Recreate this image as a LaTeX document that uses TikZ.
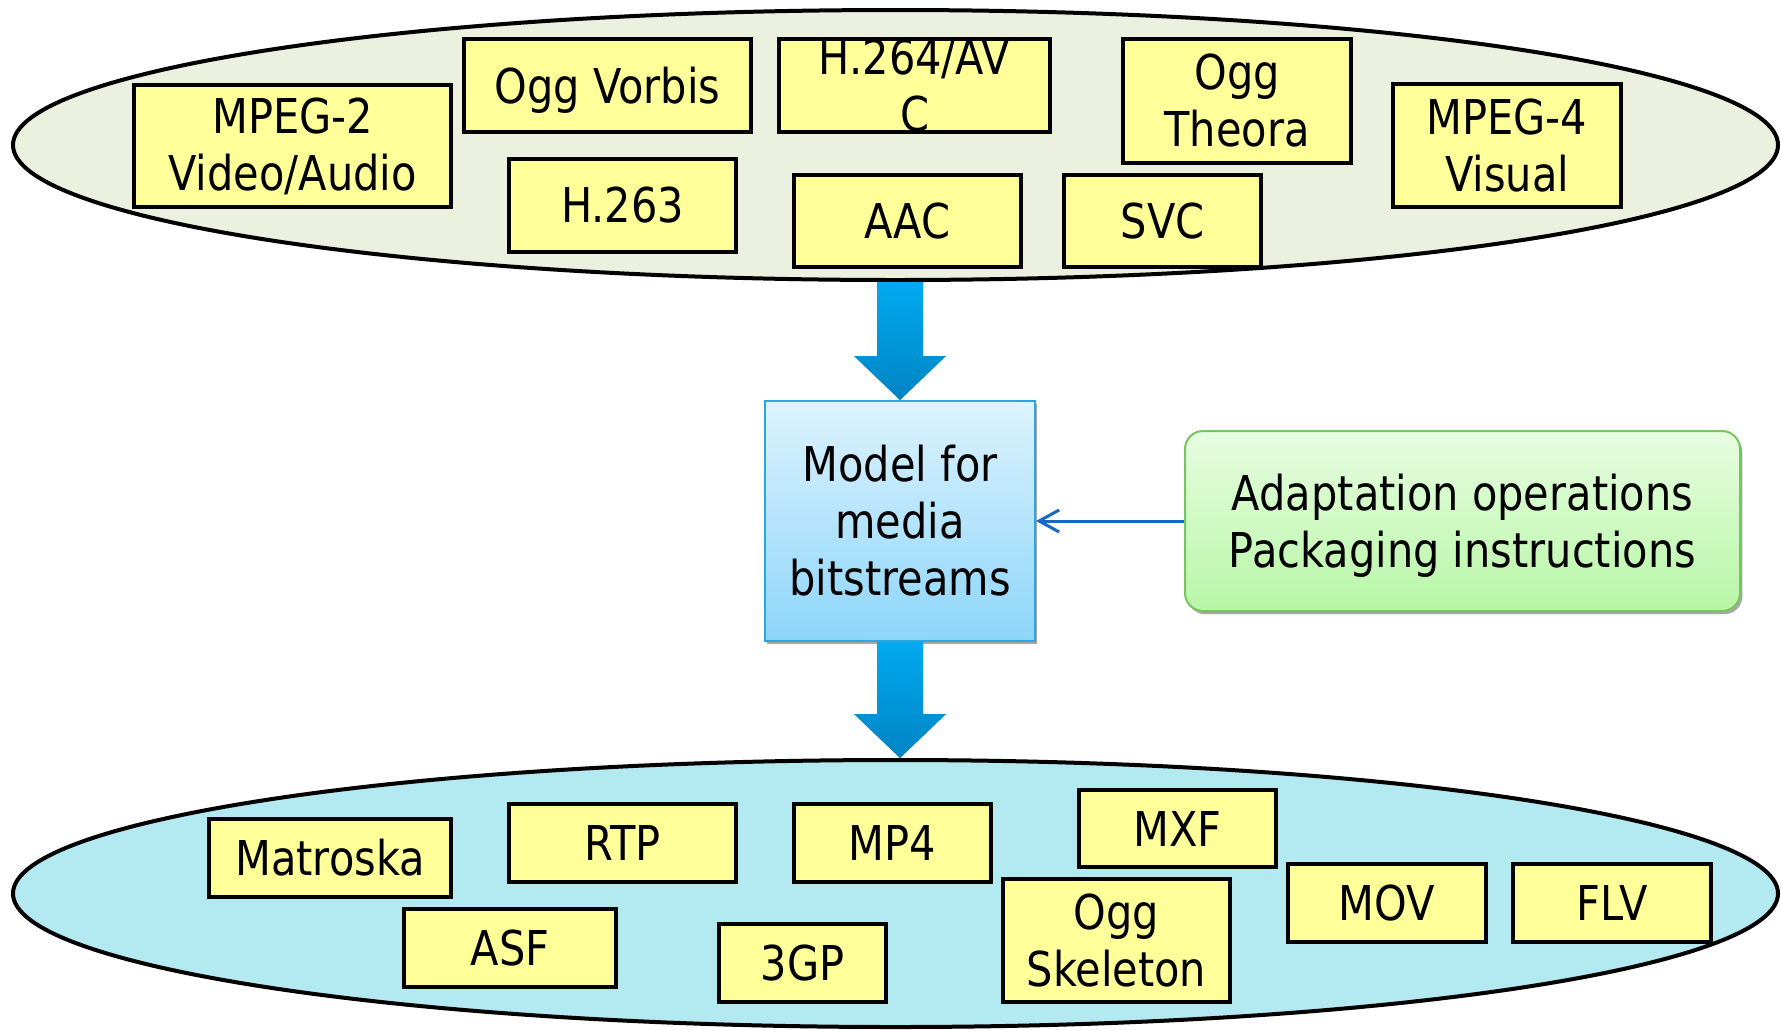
\documentclass[tikz,border=0pt]{standalone}
\usepackage{fontspec}
\setmainfont{DejaVu Sans}[FakeStretch=0.865]
\usetikzlibrary{shapes.geometric, arrows.meta, calc, shadows}

\definecolor{codecfill}{HTML}{EBF1DE}
\definecolor{formatfill}{HTML}{B3E9F1}
\definecolor{boxyellow}{HTML}{FFFF99}
\definecolor{arrowtop}{HTML}{00AAF0}
\definecolor{arrowbot}{HTML}{0084C4}
\definecolor{modeltop}{HTML}{DDF3FD}
\definecolor{modelbot}{HTML}{8DD5FA}
\definecolor{modelline}{HTML}{2AA7DF}
\definecolor{greentop}{HTML}{E7FDE1}
\definecolor{greenbot}{HTML}{B8F6A6}
\definecolor{greenline}{HTML}{78C462}
\definecolor{linkblue}{HTML}{1668C2}

% a line whose descenders do not count for vertical centring
\newcommand\nodepth[1]{\raisebox{0pt}[\height][0pt]{#1}}

% yellow box given by its corners (x1,y1) and (x2,y2), in pixel units
\newcommand\ybx[6]{%
  \node[ybox, minimum width={(#4-#2)*0.5pt}, minimum height={(#5-#3)*0.5pt}]
    (#1) at ({(#2+#4)/2},{(#3+#5)/2}) {#6};}

% thick block arrow from the shaft start #1 to the tip #2
\newcommand\bigarrow[2]{%
  \fill[black!35, shift={(0.4pt,-1.6pt)}] let \p1=(#1), \p2=(#2) in
    (\x2,\y2) -- (\x2+23pt,\y2+22pt) -- (\x2+11.5pt,\y2+22pt) -- (\x2+11.5pt,\y1)
    -- (\x2-11.5pt,\y1) -- (\x2-11.5pt,\y2+22pt) -- (\x2-23pt,\y2+22pt) -- cycle;
  \shade[top color=arrowtop, bottom color=arrowbot] let \p1=(#1), \p2=(#2) in
    (\x2,\y2) -- (\x2+23pt,\y2+22pt) -- (\x2+11.5pt,\y2+22pt) -- (\x2+11.5pt,\y1)
    -- (\x2-11.5pt,\y1) -- (\x2-11.5pt,\y2+22pt) -- (\x2-23pt,\y2+22pt) -- cycle;}

\begin{document}
\begin{tikzpicture}[x=0.5pt, y=-0.5pt,
  txt/.style={font=\fontsize{24pt}{28.5pt}\selectfont, align=center},
  group/.style={ellipse, draw=black, line width=2pt, inner sep=0pt},
  ybox/.style={txt, rectangle, draw=black, line width=2.2pt, fill=boxyellow, inner sep=0pt},
  link/.style={draw=linkblue, line width=1.5pt, -{Straight Barb[length=10pt, width=11pt]}}]

\useasboundingbox (0,0) rectangle (1781,1029);
\fill[white] (0,0) rectangle (1781,1029);

% codec group
\node[group, fill=codecfill, minimum width=882.5pt, minimum height=135pt]
  (src) at (895.5,145) {};
\ybx{mpegtwo}{134}{85}{451}{207}{MPEG-2\\Video/Audio}
\ybx{vorbis}{464}{39}{751}{132}{\nodepth{Ogg Vorbis}}
\ybx{avc}{779}{39}{1050}{132}{H.264/AV\\C}
\ybx{hdrei}{509}{159}{736}{252}{H.263}
\ybx{aac}{794}{175}{1021}{267}{AAC}
\ybx{svc}{1064}{175}{1261}{267}{SVC}
\ybx{theora}{1123}{39}{1351}{163}{Ogg\\Theora}
\ybx{mpegfour}{1393}{84}{1621}{207}{MPEG-4\\Visual}

% container format group
\node[group, fill=formatfill, minimum width=882.5pt, minimum height=133.5pt]
  (dst) at (895.5,893.5) {};
\ybx{matroska}{209}{819}{451}{897}{Matroska}
\ybx{rtp}{509}{804}{736}{882}{RTP}
\ybx{mpfour}{794}{804}{991}{882}{MP4}
\ybx{asf}{404}{909}{616}{987}{ASF}
\ybx{threegp}{719}{924}{886}{1002}{3GP}
\ybx{mxf}{1079}{790}{1276}{867}{MXF}
\ybx{skeleton}{1003}{879}{1230}{1002}{Ogg\\Skeleton}
\ybx{mov}{1288}{864}{1486}{942}{MOV}
\ybx{flv}{1513}{864}{1711}{942}{FLV}

% central model
\node[txt, rectangle, draw=modelline, line width=1pt, top color=modeltop, bottom color=modelbot,
  minimum width=135pt, minimum height=120pt, inner sep=0pt,
  drop shadow={shadow xshift=1.2pt, shadow yshift=-1.4pt, fill=black!35, opacity=1}]
  (model) at (900,521) {Model for\\media\\bitstreams};

% operations box
\node[txt, rectangle, rounded corners=9pt, draw=greenline, line width=1pt,
  top color=greentop, bottom color=greenbot,
  minimum width=277.5pt, minimum height=90pt, inner sep=0pt,
  drop shadow={shadow xshift=1.2pt, shadow yshift=-1.6pt, fill=black!35, opacity=1}]
  (ops) at (1462.5,521) {Adaptation operations\\\nodepth{Packaging instructions}};

\bigarrow{src.south}{model.north}
\bigarrow{model.south}{model.south |- dst.north}

\draw[link] (ops.west) -- (model.east);
\end{tikzpicture}
\end{document}
